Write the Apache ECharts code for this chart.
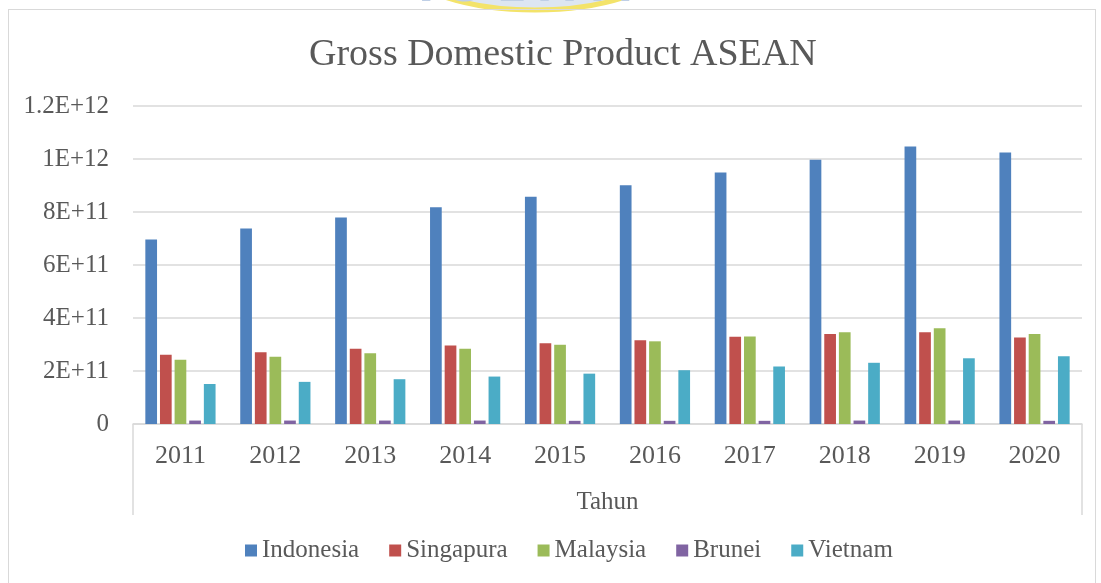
<!DOCTYPE html>
<html>
<head>
<meta charset="utf-8">
<script src="https://cdn.jsdelivr.net/npm/echarts@6/dist/echarts.min.js"></script>
<style>
  html, body { margin: 0; padding: 0; background: #fff; overflow: hidden; }
  #main { width: 1101px; height: 583px; position: relative; }
  #frame { position: absolute; left: 8px; top: 9px; width: 1086px; height: 600px;
           border: 1px solid #d9d9d9; pointer-events: none; }
</style>
</head>
<body>
<div id="main"></div>
<div id="frame"></div>
<script>
// data
var years = ['2011', '2012', '2013', '2014', '2015', '2016', '2017', '2018', '2019', '2020'];
var indonesia = [6.96e11, 7.38e11, 7.79e11, 8.18e11, 8.58e11, 9.01e11, 9.49e11, 9.97e11, 1.047e12, 1.025e12];
var singapura = [2.61e11, 2.71e11, 2.84e11, 2.96e11, 3.05e11, 3.16e11, 3.29e11, 3.40e11, 3.46e11, 3.26e11];
var malaysia = [2.42e11, 2.54e11, 2.67e11, 2.84e11, 2.99e11, 3.12e11, 3.30e11, 3.46e11, 3.61e11, 3.40e11];
var brunei = [1.3e10, 1.3e10, 1.3e10, 1.3e10, 1.2e10, 1.2e10, 1.2e10, 1.3e10, 1.3e10, 1.2e10];
var vietnam = [1.51e11, 1.59e11, 1.69e11, 1.79e11, 1.90e11, 2.03e11, 2.17e11, 2.31e11, 2.48e11, 2.56e11];
var yTickLabels = ['0', '2E+11', '4E+11', '6E+11', '8E+11', '1E+12', '1.2E+12'];

var font = '"Liberation Serif", "DejaVu Serif", serif';
var textColor = '#595959';

var chart = echarts.init(document.getElementById('main'));

function bar(name, data, color) {
	return {
		name: name,
		type: 'bar',
		data: data,
		barGap: '25%',
		barCategoryGap: '26%',
		itemStyle: { color: color },
		emphasis: { disabled: true }
	};
}

var option = {
	animation: false,
	title: {
		text: 'Gross Domestic Product ASEAN',
		left: 304,
		top: 31,
		textStyle: { fontFamily: font, fontSize: 38, fontWeight: 'normal', color: textColor }
	},
	legend: {
		bottom: 15,
		left: 240,
		itemWidth: 12,
		itemHeight: 12,
		itemGap: 30,
		icon: 'rect',
		textStyle: { fontFamily: font, fontSize: 25, color: textColor },
		data: ['Indonesia', 'Singapura', 'Malaysia', 'Brunei', 'Vietnam']
	},
	grid: { left: 133, right: 19, top: 106, bottom: 159 },
	xAxis: {
		type: 'category',
		data: years,
		name: 'Tahun',
		nameLocation: 'middle',
		nameGap: 66,
		nameTextStyle: { fontFamily: font, fontSize: 25, color: textColor },
		axisLine: { lineStyle: { color: '#d9d9d9', width: 1.5 } },
		axisTick: { show: false },
		axisLabel: { margin: 19, fontFamily: font, fontSize: 26, color: textColor }
	},
	yAxis: {
		type: 'value',
		min: 0,
		max: 1.2e12,
		interval: 2e11,
		axisLine: { show: false },
		axisTick: { show: false },
		splitLine: { lineStyle: { color: '#d9d9d9', width: 1.5 } },
		axisLabel: {
			margin: 24,
			fontFamily: font,
			fontSize: 25,
			color: textColor,
			formatter: function (v) { return yTickLabels[Math.round(v / 2e11)]; }
		}
	},
	graphic: [
		// watermark remnant at top edge
		{ type: 'ellipse', shape: { cx: 535, cy: -60, rx: 155, ry: 70 },
		  style: { fill: '#dde6f2', stroke: '#f3e36a', lineWidth: 5 }, z: 0 },
		{ type: 'text', left: 418, top: -32,
		  style: { text: 'I S L A M', font: 'bold 44px "DejaVu Sans", sans-serif', fill: '#bfcfe6' }, z: 1 },
		// category axis end lines (multi-level style)
		{ type: 'line', shape: { x1: 133, y1: 424, x2: 133, y2: 515 },
		  style: { stroke: '#d9d9d9', lineWidth: 1.5 } },
		{ type: 'line', shape: { x1: 1082, y1: 424, x2: 1082, y2: 515 },
		  style: { stroke: '#d9d9d9', lineWidth: 1.5 } }
	],
	series: [
		bar('Indonesia', indonesia, '#4f81bd'),
		bar('Singapura', singapura, '#c0504d'),
		bar('Malaysia', malaysia, '#9bbb59'),
		bar('Brunei', brunei, '#8064a2'),
		bar('Vietnam', vietnam, '#4bacc6')
	]
};
chart.setOption(option);
</script>
</body>
</html>
